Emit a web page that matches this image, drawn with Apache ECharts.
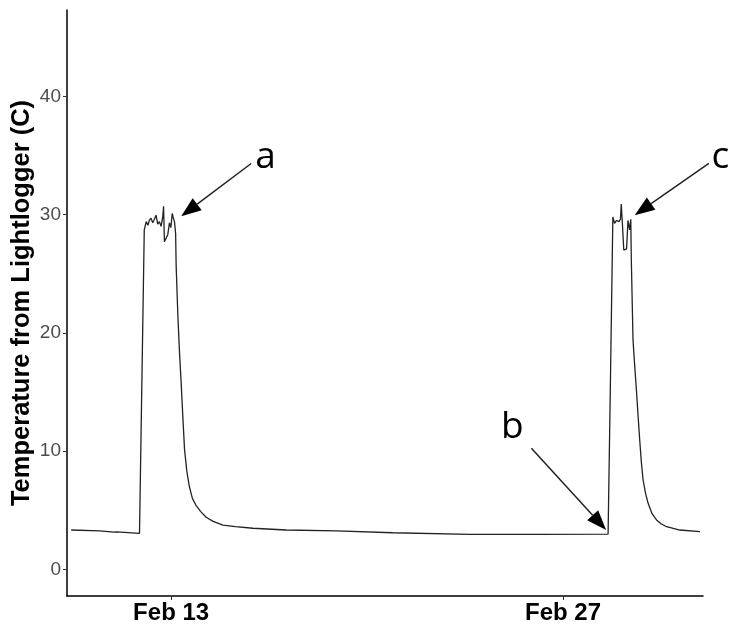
<!DOCTYPE html>
<html>
<head>
<meta charset="utf-8">
<script src="https://cdn.jsdelivr.net/npm/echarts@6/dist/echarts.min.js"></script>
<style>
  html, body { margin: 0; padding: 0; background: #fff; }
  #chart { width: 730px; height: 627px; }
</style>
</head>
<body>
<div id="chart"></div>
<script>
// time as fractional day of February
const febDay = [
  9.43, 10.44, 10.95, 11.05, 11.87, 11.93, 12.04, 12.11, 12.17, 12.22,
  12.28, 12.34, 12.40, 12.46, 12.52, 12.58, 12.64, 12.70, 12.73, 12.76,
  12.82, 12.88, 12.94, 12.99, 13.04, 13.08, 13.12, 13.16, 13.18, 13.24,
  13.30, 13.36, 13.42, 13.48, 13.56, 13.65, 13.76, 13.89, 14.05, 14.25,
  14.50, 14.85, 15.30, 15.92, 17.11, 18.90, 20.92, 23.67, 26.17, 28.61,
  28.70, 28.78, 28.84, 28.91, 29.00, 29.05, 29.08, 29.12, 29.17, 29.22,
  29.27, 29.32, 29.38, 29.42, 29.44, 29.50, 29.56, 29.62, 29.68, 29.74,
  29.80, 29.86, 29.95, 30.04, 30.18, 30.34, 30.50, 30.70, 31.17, 31.89
];
const temperature = [
  3.32, 3.24, 3.14, 3.16, 3.04, 3.10, 28.7, 29.4, 29.1, 29.5,
  29.7, 29.3, 29.6, 29.95, 29.2, 29.4, 29.0, 29.8, 30.7, 27.7,
  28.0, 28.3, 29.3, 28.9, 30.1, 29.7, 29.4, 28.4, 25.6, 21.5,
  18.3, 15.7, 12.8, 10.1, 8.3, 7.0, 6.0, 5.4, 4.9, 4.4,
  4.05, 3.74, 3.6, 3.47, 3.32, 3.24, 3.09, 2.96, 2.95, 2.98,
  17.0, 29.8, 29.25, 29.5, 29.4, 29.6, 30.9, 29.25, 27.0, 26.9,
  27.1, 29.5, 28.7, 29.6, 26.1, 19.4, 17.2, 15.2, 13.0, 10.9,
  9.0, 7.55, 6.4, 5.58, 4.7, 4.17, 3.85, 3.6, 3.32, 3.18
];
const xTickDays = [13, 27];
const yTicks = [0, 10, 20, 30, 40];

// annotations (data coordinates)
const noteText = ['a', 'b', 'c'];
const noteAt = [[16.37, 34.85], [25.19, 12.03], [32.62, 34.85]];
const arrowFrom = [[15.86, 34.32], [25.87, 10.23], [32.21, 34.32]];
const arrowTo = [[13.36, 29.86], [28.54, 3.32], [29.56, 29.95]];

const chart = echarts.init(document.getElementById('chart'));
chart.setOption({
  animation: false,
  grid: { left: 67, right: 27, top: 10, bottom: 31, outerBoundsMode: 'none' },
  xAxis: {
    type: 'value',
    min: 9.28,
    max: 32.0,
    splitLine: { show: false },
    axisLine: { onZero: false, lineStyle: { color: '#000', width: 1.5 } },
    axisTick: { customValues: xTickDays, length: 4, lineStyle: { color: '#333' } },
    axisLabel: {
      customValues: xTickDays,
      formatter: (v) => 'Feb ' + Math.round(v),
      color: '#000',
      fontSize: 24,
      fontWeight: 'bold',
      fontFamily: 'Liberation Sans',
      margin: 5
    }
  },
  yAxis: {
    type: 'value',
    min: -2.26,
    max: 47.3,
    name: 'Temperature from Lightlogger (C)',
    nameLocation: 'middle',
    nameGap: 32,
    nameMoveOverlap: false,
    nameTextStyle: { color: '#000', fontSize: 25.5, fontWeight: 'bold', fontFamily: 'Liberation Sans' },
    splitLine: { show: false },
    axisLine: { show: true, onZero: false, lineStyle: { color: '#000', width: 1.5 } },
    axisTick: { show: true, customValues: yTicks, length: 4, lineStyle: { color: '#333' } },
    axisLabel: {
      customValues: yTicks,
      color: '#4d4d4d',
      fontSize: 19,
      fontFamily: 'Liberation Sans',
      margin: 6
    }
  },
  series: [{
    type: 'line',
    data: febDay.map((d, i) => [d, temperature[i]]),
    showSymbol: false,
    lineStyle: { color: '#222', width: 1.3 }
  }]
});

// arrows + letters
const graphics = [];
noteText.forEach((t, i) => {
  const p0 = chart.convertToPixel({ gridIndex: 0 }, arrowFrom[i]);
  const p1 = chart.convertToPixel({ gridIndex: 0 }, arrowTo[i]);
  const dx = p1[0] - p0[0], dy = p1[1] - p0[1];
  const len = Math.hypot(dx, dy);
  const ux = dx / len, uy = dy / len;
  const headLen = 20, headW = 7.5;
  const bx = p1[0] - ux * headLen, by = p1[1] - uy * headLen;
  graphics.push({
    type: 'line',
    shape: { x1: p0[0], y1: p0[1], x2: bx, y2: by },
    style: { stroke: '#222', lineWidth: 1.5 }
  });
  graphics.push({
    type: 'polygon',
    shape: { points: [[p1[0], p1[1]], [bx - uy * headW, by + ux * headW], [bx + uy * headW, by - ux * headW]] },
    style: { fill: '#000' }
  });
  const tp = chart.convertToPixel({ gridIndex: 0 }, noteAt[i]);
  graphics.push({
    type: 'text',
    x: tp[0],
    y: tp[1],
    style: {
      text: t,
      fill: '#000',
      font: '37px "Open Sans"',
      align: 'center',
      verticalAlign: 'middle'
    }
  });
});
chart.setOption({ graphic: graphics });
</script>
</body>
</html>
